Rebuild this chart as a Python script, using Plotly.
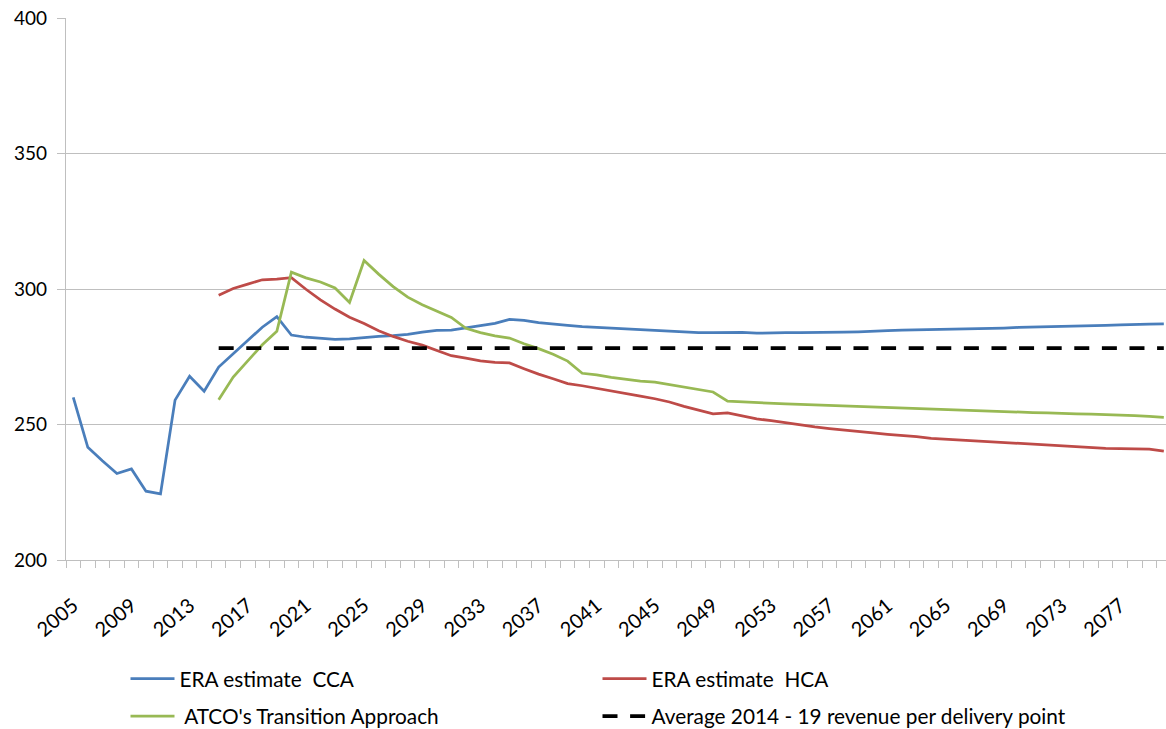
import plotly.graph_objects as go

# Years on the horizontal axis
years = list(range(2005, 2081))
forecast_years = list(range(2015, 2081))

# Revenue per delivery point ($)
era_cca = [
    260.0, 241.6, 236.6, 231.9, 233.6, 225.4, 224.4, 259.0, 267.8, 262.3,
    271.2, 276.0, 281.0, 285.9, 289.8, 283.0, 282.2, 281.7, 281.4, 281.6,
    282.1, 282.5, 282.8, 283.3, 284.1, 284.7, 284.8, 285.6, 286.4, 287.3,
    288.8, 288.4, 287.6, 287.0, 286.6, 286.1, 285.8, 285.5, 285.3, 285.0,
    284.7, 284.4, 284.1, 283.9, 283.9, 284.0, 284.0, 283.7, 283.9, 283.9,
    283.9, 283.9, 284.0, 284.1, 284.2, 284.3, 284.6, 284.8, 284.9, 284.9,
    285.1, 285.2, 285.4, 285.5, 285.6, 285.8, 285.9, 286.0, 286.3, 286.4,
    286.5, 286.6, 286.8, 286.8, 287.0, 287.1,
]

era_hca = [
    297.7, 300.2, 301.8, 303.4, 303.6, 304.2, 299.9, 296.0, 292.6, 289.6,
    287.3, 284.6, 282.5, 280.7, 279.3, 277.4, 275.4, 274.5, 273.5, 272.9,
    272.7, 270.6, 268.6, 266.9, 265.1, 264.3, 263.4, 262.4, 261.4, 260.5,
    259.5, 258.3, 256.7, 255.3, 253.9, 254.3, 253.3, 252.1, 251.4, 250.6,
    249.9, 249.1, 248.5, 247.9, 247.4, 246.9, 246.4, 246.0, 245.5, 244.9,
    244.6, 244.3, 243.8, 243.6, 243.3, 243.0, 242.7, 242.5, 242.1, 241.8,
    241.6, 241.2, 241.1, 241.1, 240.9, 240.2,
]

atco_transition = [
    259.1, 267.5, 273.5, 279.4, 284.4, 306.2, 304.1, 302.6, 300.4, 295.0,
    310.5, 305.5, 300.9, 297.0, 294.2, 291.7, 289.5, 285.5, 283.9, 282.7,
    281.9, 279.8, 278.0, 275.9, 273.4, 268.9, 268.3, 267.4, 266.7, 266.0,
    265.6, 264.7, 263.9, 263.0, 262.0, 258.6, 258.3, 258.1, 257.8, 257.6,
    257.4, 257.2, 257.1, 256.9, 256.7, 256.6, 256.4, 256.2, 256.0, 255.8,
    255.4, 255.3, 255.0, 254.8, 254.8, 254.5, 254.4, 254.3, 254.0, 253.9,
    253.8, 253.7, 253.4, 253.3, 253.0, 252.6,
]

average_2014_19 = 278.2
average_line = [average_2014_19] * len(forecast_years)

# Axis labels
x_tick_years = years[::4]
x_tick_text = [str(y) for y in x_tick_years]
y_tick_vals = [200, 250, 300, 350, 400]

FONT = "Lato"
AXIS_GREY = "#bfbfbf"
W, H = 1166, 729

fig = go.Figure()

fig.add_trace(go.Scatter(
    x=years, y=era_cca, mode="lines", name="ERA estimate  CCA",
    line=dict(color="#4a7ebb", width=2.75), legend="legend",
))
fig.add_trace(go.Scatter(
    x=forecast_years, y=era_hca, mode="lines", name="ERA estimate  HCA",
    line=dict(color="#be4b48", width=2.75), legend="legend2",
))
fig.add_trace(go.Scatter(
    x=forecast_years, y=atco_transition, mode="lines",
    name=" ATCO's Transition Approach",
    line=dict(color="#98b954", width=2.75), legend="legend3",
))
fig.add_trace(go.Scatter(
    x=forecast_years, y=average_line, mode="lines",
    name="Average 2014 - 19 revenue per delivery point",
    line=dict(color="#000000", width=3.75, dash="15px,12.6px"),
    legend="legend4",
))


def legend_box(px_x, px_y):
    """One legend entry placed at a pixel position of the page."""
    return dict(
        orientation="h",
        xref="container",
        yref="container",
        x=px_x / W,
        y=1 - px_y / H,
        xanchor="left",
        yanchor="middle",
        itemwidth=44,
        bgcolor="rgba(0,0,0,0)",
        font=dict(family=FONT, size=20.8, color="#000000"),
    )


fig.update_layout(
    width=W,
    height=H,
    margin=dict(l=66, r=0, t=18, b=169, pad=0),
    paper_bgcolor="white",
    plot_bgcolor="white",
    font=dict(family=FONT, size=19, color="#000000"),
    showlegend=True,
    legend=legend_box(125.5, 679),
    legend2=legend_box(597.5, 679),
    legend3=legend_box(125.5, 716.5),
    legend4=legend_box(597.5, 716.5),
    xaxis=dict(
        range=[2004.5, 2080.15],
        tickmode="array",
        tickvals=x_tick_years,
        ticktext=x_tick_text,
        tickangle=-40,
        ticks="outside",
        ticklen=7,
        tickcolor="rgba(0,0,0,0)",
        ticklabelstandoff=18,
        automargin=False,
        showgrid=False,
        zeroline=False,
        showline=True,
        linecolor=AXIS_GREY,
        linewidth=1.3,
        tickfont=dict(family=FONT, size=20, color="#000000"),
        minor=dict(
            tick0=2004.5,
            dtick=1,
            ticks="outside",
            ticklen=7,
            tickcolor=AXIS_GREY,
            tickwidth=1,
            showgrid=False,
        ),
    ),
    yaxis=dict(
        range=[200, 400],
        tickmode="array",
        tickvals=y_tick_vals,
        ticks="outside",
        ticklen=8,
        tickcolor=AXIS_GREY,
        showgrid=True,
        gridcolor=AXIS_GREY,
        gridwidth=1,
        zeroline=False,
        showline=True,
        linecolor=AXIS_GREY,
        linewidth=1.3,
        ticklabelstandoff=6,
        automargin=False,
        tickfont=dict(family=FONT, size=19, color="#000000"),
    ),
)

fig.write_html("out.html")
